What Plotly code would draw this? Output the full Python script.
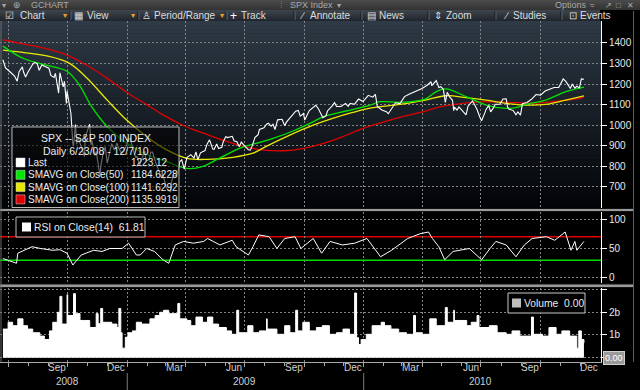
import plotly.graph_objects as go
import pandas as pd

# ---------------- DATA ----------------
price_dates = [
    "2008-06-23","2008-06-27","2008-07-03","2008-07-09","2008-07-11","2008-07-15","2008-07-18","2008-07-23",
    "2008-07-25","2008-07-28","2008-08-01","2008-08-08","2008-08-11","2008-08-15","2008-08-18","2008-08-22",
    "2008-08-29","2008-09-02","2008-09-05","2008-09-10","2008-09-12","2008-09-15","2008-09-17","2008-09-19",
    "2008-09-24","2008-09-26","2008-09-29","2008-09-30","2008-10-03","2008-10-06","2008-10-09","2008-10-10",
    "2008-10-13","2008-10-15","2008-10-17","2008-10-22","2008-10-24","2008-10-27","2008-10-28","2008-10-31",
    "2008-11-04","2008-11-06","2008-11-07","2008-11-12","2008-11-14","2008-11-20","2008-11-21","2008-11-24",
    "2008-11-28","2008-12-01","2008-12-05","2008-12-08","2008-12-12","2008-12-16","2008-12-19","2008-12-23",
    "2008-12-26","2008-12-31",
    "2009-01-02","2009-01-06","2009-01-09","2009-01-14","2009-01-16","2009-01-20","2009-01-23","2009-01-28",
    "2009-01-30","2009-02-04","2009-02-06","2009-02-09","2009-02-13","2009-02-17","2009-02-20","2009-02-23",
    "2009-02-24","2009-02-27","2009-03-02","2009-03-05","2009-03-06","2009-03-09","2009-03-10","2009-03-13",
    "2009-03-16","2009-03-20","2009-03-23","2009-03-26","2009-03-30","2009-04-03","2009-04-09","2009-04-14",
    "2009-04-17","2009-04-20","2009-04-24","2009-05-01","2009-05-04","2009-05-08","2009-05-13","2009-05-15",
    "2009-05-19","2009-05-22","2009-05-27","2009-05-29","2009-06-02","2009-06-05","2009-06-12","2009-06-15",
    "2009-06-19","2009-06-23","2009-06-26","2009-07-02","2009-07-07","2009-07-10","2009-07-13","2009-07-17",
    "2009-07-22","2009-07-24","2009-07-31","2009-08-04","2009-08-07","2009-08-11","2009-08-14","2009-08-17",
    "2009-08-21","2009-08-28","2009-09-01","2009-09-04","2009-09-11","2009-09-18","2009-09-22","2009-09-25",
    "2009-09-30","2009-10-02","2009-10-09","2009-10-16","2009-10-19","2009-10-23","2009-10-30","2009-11-04",
    "2009-11-06","2009-11-13","2009-11-17","2009-11-20","2009-11-27","2009-12-04","2009-12-08","2009-12-11",
    "2009-12-18","2009-12-24","2009-12-31",
    "2010-01-08","2010-01-15","2010-01-19","2010-01-22","2010-01-29","2010-02-05","2010-02-08","2010-02-12",
    "2010-02-19","2010-02-26","2010-03-05","2010-03-12","2010-03-19","2010-03-26","2010-04-01","2010-04-09",
    "2010-04-15","2010-04-16","2010-04-23","2010-04-27","2010-04-30","2010-05-04","2010-05-06","2010-05-07",
    "2010-05-10","2010-05-14","2010-05-18","2010-05-20","2010-05-21","2010-05-25","2010-05-28","2010-06-04",
    "2010-06-08","2010-06-11","2010-06-18","2010-06-22","2010-06-25","2010-06-29","2010-07-01","2010-07-02",
    "2010-07-07","2010-07-09","2010-07-13","2010-07-16","2010-07-20","2010-07-23","2010-07-30","2010-08-04",
    "2010-08-09","2010-08-11","2010-08-13","2010-08-20","2010-08-24","2010-08-27","2010-08-31","2010-09-03",
    "2010-09-10","2010-09-17","2010-09-24","2010-10-01","2010-10-08","2010-10-15","2010-10-22","2010-10-29",
    "2010-11-05","2010-11-09","2010-11-12","2010-11-16","2010-11-19","2010-11-23","2010-11-26","2010-11-30",
    "2010-12-03","2010-12-07",
]
price_close = [
    1318,1278,1262,1245,1239,1214,1260,1283,
    1257,1234,1260,1296,1305,1298,1267,1292,
    1282,1277,1242,1232,1252,1193,1156,1255,
    1186,1213,1106,1166,1099,1057,910,899,
    1003,908,941,896,877,848,941,968,
    1005,904,930,852,873,752,800,852,
    896,816,876,910,879,913,888,863,
    872,903,
    932,935,890,842,850,805,832,874,
    826,832,869,870,827,789,770,743,
    773,735,700,682,683,677,720,756,
    753,768,823,832,787,843,857,841,
    870,832,866,877,907,929,884,883,
    909,887,893,919,944,940,946,923,
    921,896,918,896,881,879,901,940,
    954,979,987,1005,1010,995,1005,979,
    1026,1029,998,1016,1042,1068,1072,1044,
    1057,1025,1071,1087,1097,1080,1036,1046,
    1069,1093,1110,1091,1091,1106,1092,1106,
    1102,1127,1115,
    1145,1136,1150,1091,1074,1066,1056,1075,
    1109,1105,1139,1150,1160,1167,1178,1194,
    1211,1192,1217,1183,1187,1174,1128,1111,
    1160,1136,1121,1071,1088,1074,1089,1065,
    1050,1092,1118,1095,1076,1041,1027,1022,
    1060,1078,1095,1065,1083,1102,1102,1127,
    1128,1089,1079,1071,1051,1065,1049,1104,
    1110,1126,1149,1146,1166,1176,1183,1183,
    1225,1213,1200,1178,1200,1180,1189,1181,
    1225,1223,
]

sma50_dates = ["2008-06-23","2008-07-24","2008-08-24","2008-09-30","2008-10-20","2008-11-06","2008-12-01",
               "2008-12-31","2009-01-25","2009-03-03","2009-04-03","2009-04-28","2009-05-24","2009-06-24",
               "2009-07-20","2009-08-14","2009-09-14","2009-10-15","2009-10-30","2009-12-05","2010-01-11",
               "2010-01-26","2010-02-26","2010-04-06","2010-04-23","2010-05-08","2010-06-08","2010-07-09",
               "2010-08-09","2010-08-24","2010-09-08","2010-10-09","2010-11-09","2010-12-07"]
sma50_vals = [1384,1325,1295,1262,1190,1095,993,913,865,823,790,800,841,889,913,936,972,1017,1041,1069,
              1098,1114,1111,1127,1163,1176,1139,1098,1082,1085,1101,1122,1163,1185]

sma100_dates = ["2008-06-23","2008-09-04","2008-10-04","2008-10-31","2008-12-01","2008-12-31","2009-01-31",
                "2009-03-03","2009-04-03","2009-05-04","2009-06-13","2009-07-14","2009-08-05","2009-09-09",
                "2009-10-15","2009-11-14","2009-12-15","2010-01-15","2010-02-26","2010-04-06","2010-05-08",
                "2010-06-08","2010-07-09","2010-08-09","2010-09-08","2010-10-09","2010-11-09","2010-12-07"]
sma100_vals = [1365,1333,1300,1228,1122,1025,944,880,839,834,844,864,900,952,1000,1033,1062,1085,1101,
               1122,1143,1134,1122,1106,1098,1101,1122,1142]

sma200_dates = ["2008-06-23","2008-07-24","2008-08-24","2008-09-30","2008-10-31","2008-11-30","2008-12-31",
                "2009-01-31","2009-02-28","2009-03-31","2009-04-30","2009-05-31","2009-06-30","2009-07-31",
                "2009-08-31","2009-09-30","2009-10-31","2009-11-30","2009-12-31","2010-01-31","2010-02-28",
                "2010-03-31","2010-04-30","2010-05-31","2010-06-30","2010-07-31","2010-08-31","2010-09-30",
                "2010-10-31","2010-11-30","2010-12-07"]
sma200_vals = [1415,1395,1375,1340,1290,1230,1160,1100,1045,995,960,925,897,879,876,888,912,945,985,
               1015,1040,1063,1090,1105,1113,1113,1108,1108,1118,1130,1136]

rsi_dates = ["2008-06-23","2008-07-01","2008-07-14","2008-07-16","2008-08-07","2008-08-20","2008-09-08",
             "2008-09-19","2008-09-30","2008-10-09","2008-10-22","2008-11-10","2008-11-23","2008-12-05",
             "2008-12-24","2009-01-03","2009-01-15","2009-01-21","2009-01-31","2009-02-12","2009-02-25",
             "2009-03-06","2009-03-16","2009-03-29","2009-04-13","2009-04-29","2009-05-05","2009-05-24",
             "2009-06-12","2009-06-18","2009-07-07","2009-07-14","2009-07-23","2009-08-08","2009-08-20",
             "2009-09-01","2009-09-17","2009-09-26","2009-10-15","2009-10-28","2009-11-10","2009-11-29",
             "2009-12-18","2010-01-06","2010-01-27","2010-02-13","2010-03-10","2010-03-29","2010-04-11",
             "2010-04-17","2010-04-27","2010-05-06","2010-05-19","2010-06-13","2010-07-02","2010-07-15",
             "2010-07-24","2010-08-09","2010-08-24","2010-09-06","2010-09-18","2010-10-10","2010-10-23",
             "2010-11-08","2010-11-17","2010-11-23","2010-11-26","2010-12-07"]
rsi_vals = [33,30,25,42,53,50,47,48,42,22,39,47,45,50,50,59,39,39,50,45,31,25,56,62,59,62,67,56,64,53,
            39,53,73,70,50,67,70,50,67,42,62,56,59,67,36,47,67,75,78,67,53,31,45,50,31,50,62,56,36,56,
            67,70,64,78,47,62,47,62]
rsi_levels = [70, 30]

vol_dates = ["2008-06-23","2008-07-01","2008-07-08","2008-07-16","2008-07-24","2008-07-31","2008-08-08",
             "2008-08-19","2008-08-26","2008-09-03","2008-09-08","2008-09-15","2008-09-19","2008-09-22",
             "2008-09-30","2008-10-01","2008-10-10","2008-10-13","2008-10-20","2008-10-27","2008-11-04",
             "2008-11-14","2008-11-17","2008-11-21","2008-11-24","2008-12-01","2008-12-08","2008-12-16",
             "2008-12-19","2008-12-22","2008-12-24","2008-12-29","2009-01-02","2009-01-09","2009-01-15",
             "2009-01-23","2009-02-05","2009-02-13","2009-02-20","2009-02-26","2009-03-06","2009-03-20",
             "2009-03-23","2009-04-03","2009-04-09","2009-04-17","2009-04-27","2009-05-05","2009-05-13",
             "2009-05-22","2009-06-03","2009-06-11","2009-06-19","2009-06-22","2009-07-06","2009-07-14",
             "2009-07-24","2009-08-04","2009-08-05","2009-08-20","2009-09-01","2009-09-09","2009-09-18",
             "2009-09-21","2009-09-29","2009-10-09","2009-10-20","2009-10-29","2009-11-09","2009-11-20",
             "2009-11-30","2009-12-10","2009-12-18","2009-12-21","2009-12-24","2009-12-28","2010-01-05",
             "2010-01-14","2010-01-28","2010-02-02","2010-02-12","2010-02-24","2010-03-08","2010-03-19",
             "2010-03-22","2010-04-01","2010-04-13","2010-04-23","2010-05-07","2010-05-10","2010-05-20",
             "2010-05-21","2010-06-09","2010-06-16","2010-06-25","2010-06-28","2010-07-14","2010-07-26",
             "2010-08-09","2010-08-18","2010-08-30","2010-09-17","2010-09-20","2010-10-04","2010-10-14",
             "2010-10-25","2010-11-03","2010-11-15","2010-11-26","2010-11-29","2010-12-03","2010-12-07"]
vol_vals = [1.26,1.56,1.41,1.71,1.41,1.26,1.10,0.95,0.80,1.18,1.56,2.00,2.70,1.48,2.77,1.86,2.82,1.94,
            1.64,1.64,1.33,1.94,1.50,2.17,1.56,1.56,1.48,1.33,2.17,1.10,0.42,0.90,1.10,1.18,1.56,1.48,
            1.71,1.86,2.00,2.09,1.94,2.39,1.71,1.64,1.41,1.79,1.56,1.79,1.48,1.33,1.18,1.03,2.09,1.10,
            1.41,1.10,1.18,1.71,1.26,1.03,1.41,1.10,2.09,1.18,1.56,1.18,1.33,1.41,1.03,1.10,1.26,1.03,
            2.85,0.88,0.58,0.80,1.03,1.41,1.56,1.41,1.26,1.10,1.03,1.86,1.10,1.03,1.71,1.41,2.21,1.56,
            2.09,1.64,1.41,1.56,1.86,1.33,1.41,1.10,1.03,1.18,0.95,1.79,1.03,0.95,1.33,1.03,1.18,0.95,
            0.42,1.18,0.80,0.65]

price_ticks = [700, 800, 900, 1000, 1100, 1200, 1300, 1400]
rsi_ticks = [0, 50, 100]
vol_ticks = [0, 1, 2, 3]
vol_tick_text = ["", "1b", "2b", ""]
quarter_starts = ["2008-07-01","2008-10-01","2009-01-01","2009-04-01","2009-07-01","2009-10-01",
                  "2010-01-01","2010-04-01","2010-07-01","2010-10-01"]
month_label_dates = ["2008-09-15","2008-12-15","2009-03-15","2009-06-15","2009-09-15","2009-12-15",
                     "2010-03-15","2010-06-15","2010-09-15","2010-12-15"]
month_labels = ["Sep","Dec","Mar","Jun","Sep","Dec","Mar","Jun","Sep","Dec"]
year_label_dates = ["2008-09-30","2009-07-01","2010-07-01"]
year_labels = ["2008","2009","2010"]
year_breaks = ["2009-01-01","2010-01-01"]

legend_rows = [("Last", "1223.12", "#ffffff"),
               ("SMAVG on Close(50)", "1184.6228", "#00e400"),
               ("SMAVG on Close(100)", "1141.6292", "#e8e800"),
               ("SMAVG on Close(200)", "1135.9919", "#e00000")]

# ---------------- STYLE / LAYOUT ----------------
W, H = 640, 390
FONT = "Liberation Sans, Arial, sans-serif"
GRID = "#858585"
X_RANGE = ["2008-06-18 12:00", "2011-01-02 08:00"]
def X(px): return px / W
def Y(py): return 1 - py / H

fig = go.Figure()
fig.add_trace(go.Scatter(x=pd.to_datetime(sma200_dates), y=sma200_vals, mode="lines",
                         line=dict(color="#e00000", width=1.3, shape="spline"), xaxis="x", yaxis="y"))
fig.add_trace(go.Scatter(x=pd.to_datetime(sma100_dates), y=sma100_vals, mode="lines",
                         line=dict(color="#e8e800", width=1.3, shape="spline"), xaxis="x", yaxis="y"))
fig.add_trace(go.Scatter(x=pd.to_datetime(sma50_dates), y=sma50_vals, mode="lines",
                         line=dict(color="#00e400", width=1.3, shape="spline"), xaxis="x", yaxis="y"))
fig.add_trace(go.Scatter(x=pd.to_datetime(price_dates), y=price_close, mode="lines",
                         line=dict(color="#ffffff", width=1.1), xaxis="x", yaxis="y"))
fig.add_trace(go.Scatter(x=pd.to_datetime(rsi_dates), y=rsi_vals, mode="lines",
                         line=dict(color="#ffffff", width=1), xaxis="x2", yaxis="y2"))
fig.add_trace(go.Scatter(x=pd.to_datetime(vol_dates), y=vol_vals, mode="lines", fill="tozeroy",
                         fillcolor="#ffffff", line=dict(color="#ffffff", width=1, shape="hv"),
                         xaxis="x3", yaxis="y3"))

month_starts = pd.date_range("2008-07-01", "2010-12-01", freq="MS")

def xax(**kw):
    d = dict(type="date", range=X_RANGE, domain=[0, X(601)], showgrid=True, gridcolor=GRID,
             griddash="2px,2px", gridwidth=1, tickmode="array", tickvals=quarter_starts,
             showticklabels=False, ticks="", zeroline=False, showline=False, fixedrange=True)
    d.update(kw)
    return d

def yax(**kw):
    d = dict(side="right", showgrid=True, gridcolor=GRID, griddash="2px,2px", gridwidth=1,
             showline=True, linecolor="#ffffff", linewidth=1, ticks="outside", ticklen=5,
             tickcolor="#ffffff", tickfont=dict(family=FONT, size=10, color="#e8e8e8"),
             zeroline=False, tickmode="array", fixedrange=True)
    d.update(kw)
    return d

shapes = []
# main panel gradient background
N = 46
top, bot = 21, 208
for i in range(N):
    t = i / (N - 1)
    c = (int(46 - 43 * t), int(58 - 54 * t), int(70 - 63 * t))
    shapes.append(dict(type="rect", xref="paper", yref="paper", x0=0, x1=X(601),
                       y0=Y(top + (bot - top) * (i + 1) / N + 0.5), y1=Y(top + (bot - top) * i / N),
                       fillcolor="rgb(%d,%d,%d)" % c, line=dict(width=0), layer="below"))
# toolbar rows
for i in range(10):
    g = int(74 - 2.5 * i)
    shapes.append(dict(type="rect", xref="paper", yref="paper", x0=0, x1=1, y0=Y(i + 1.05), y1=Y(i),
                       fillcolor="rgb(%d,%d,%d)" % (g, g, g), line=dict(width=0), layer="below"))
for i in range(11):
    t = i / 10
    c = (int(62 - 28 * t), int(68 - 29 * t), int(76 - 30 * t))
    shapes.append(dict(type="rect", xref="paper", yref="paper", x0=0, x1=X(600), y0=Y(10 + i + 1.05),
                       y1=Y(10 + i), fillcolor="rgb(%d,%d,%d)" % c, line=dict(width=0), layer="below"))
for sx in [70, 138, 226, 294, 361, 428, 495, 561]:
    shapes.append(dict(type="line", xref="paper", yref="paper", x0=X(sx), x1=X(sx), y0=Y(20), y1=Y(11),
                       line=dict(color="#15181c", width=1)))
    shapes.append(dict(type="line", xref="paper", yref="paper", x0=X(sx + 1), x1=X(sx + 1), y0=Y(20),
                       y1=Y(11), line=dict(color="#56606a", width=1)))
# panel separators and borders
for (a, b) in [(208, 212), (283.5, 288)]:
    shapes.append(dict(type="rect", xref="paper", yref="paper", x0=0, x1=X(634), y0=Y(b), y1=Y(a),
                       fillcolor="#111111", line=dict(width=0)))
    shapes.append(dict(type="rect", xref="paper", yref="paper", x0=0, x1=X(634), y0=Y(b - 1),
                       y1=Y(a + 1), fillcolor="#9a9a9a", line=dict(width=0)))
shapes.append(dict(type="line", xref="paper", yref="paper", x0=X(633.5), x1=X(633.5), y0=Y(362),
                   y1=Y(11), line=dict(color="#5e5e5e", width=1)))
shapes.append(dict(type="line", xref="paper", yref="paper", x0=X(1), x1=X(1), y0=Y(362), y1=Y(21),
                   line=dict(color="#6a6a6a", width=1)))
for yb in year_breaks:
    shapes.append(dict(type="line", xref="x3", yref="paper", x0=yb, x1=yb, y0=0, y1=Y(373),
                       line=dict(color="#7a7a7a", width=1)))
# RSI reference levels
for lvl, col in zip(rsi_levels, ["#e00000", "#00e000"]):
    shapes.append(dict(type="line", xref="x2 domain", yref="y2", x0=0, x1=1, y0=lvl, y1=lvl,
                       line=dict(color=col, width=1.5), layer="below"))
# legend boxes
shapes.append(dict(type="rect", xref="paper", yref="paper", x0=X(12), x1=X(179), y0=Y(207.5), y1=Y(127),
                   fillcolor="rgba(0,0,0,0.58)", line=dict(color="#b8b8b8", width=1), layer="above"))
for i, (_, _, col) in enumerate(legend_rows):
    cy = 162.5 + i * 12.3
    shapes.append(dict(type="rect", xref="paper", yref="paper", x0=X(16), x1=X(25), y0=Y(cy + 4.5),
                       y1=Y(cy - 4.5), fillcolor=col, line=dict(color="#dddddd", width=0.5), layer="above"))
shapes.append(dict(type="rect", xref="paper", yref="paper", x0=X(16), x1=X(145), y0=Y(237), y1=Y(217),
                   fillcolor="rgba(0,0,0,0.85)", line=dict(color="#b8b8b8", width=1), layer="above"))
shapes.append(dict(type="rect", xref="paper", yref="paper", x0=X(22), x1=X(31), y0=Y(231.5), y1=Y(222.5),
                   fillcolor="#ffffff", line=dict(width=0), layer="above"))
shapes.append(dict(type="rect", xref="paper", yref="paper", x0=X(508), x1=X(585), y0=Y(313), y1=Y(293),
                   fillcolor="#000000", line=dict(color="#c8c8c8", width=1), layer="above"))
shapes.append(dict(type="rect", xref="paper", yref="paper", x0=X(512), x1=X(521), y0=Y(307.5), y1=Y(298.5),
                   fillcolor="#bdbdbd", line=dict(width=0), layer="above"))

ann = []
def txt(x, y, s, size=10, color="#e6e6e6", xanchor="left", **kw):
    d = dict(x=X(x), y=Y(y), xref="paper", yref="paper", text=s, showarrow=False,
             font=dict(family=FONT, size=size, color=color), xanchor=xanchor, yanchor="middle",
             borderpad=0)
    d.update(kw)
    return d

# toolbar row 1
T1 = "#a8a8a8"
ann += [txt(1, 5.5, "▾", 8, T1), txt(12, 5.5, "⊕", 9, T1), txt(30, 5.5, "GCHART", 9, T1),
        txt(279, 5.5, "⁞", 9, "#7a7a7a"), txt(289, 5.5, "SPX Index", 9, T1), txt(336, 5.5, "▾", 8, T1),
        txt(554, 5.5, "Options", 9, T1), txt(589, 5.5, "≈", 8, T1), txt(604, 5.5, "↗", 8, T1),
        txt(615, 5.5, "□", 8, T1), txt(626, 5.5, "✕", 8, T1)]
# toolbar row 2
T2 = "#dcdcdc"
OR = "#f0a020"
ann += [txt(4, 16, "☑", 10, T2), txt(19, 16, "Chart", 10, T2), txt(62, 16, "▾", 8, OR),
        txt(73, 16, "▦", 10, T2), txt(86, 16, "View", 10, T2), txt(130, 16, "▾", 8, OR),
        txt(141, 16, "♙", 10, T2), txt(153, 16, "Period/Range", 10, T2), txt(219, 16, "▾", 8, OR),
        txt(229, 16, "+", 12, "#ffffff"), txt(240, 16, "Track", 10, T2),
        txt(298, 16, "∕", 10, T2), txt(309, 16, "Annotate", 10, T2),
        txt(366, 16, "▤", 10, T2), txt(378, 16, "News", 10, T2),
        txt(433, 16, "⇕", 10, T2), txt(445, 16, "Zoom", 10, T2),
        txt(502, 16, "∕", 10, T2), txt(512, 16, "Studies", 10, T2),
        txt(568, 16, "⊡", 10, T2), txt(579, 16, "Events", 10, T2)]
# main legend
LC = "#ececec"
LS = 10
ann += [txt(96, 138, "SPX -- S&P 500 INDEX", 10.5, LC, xanchor="center"),
        txt(96, 151, "Daily 6/23/08 - 12/7/10", 10.5, LC, xanchor="center")]
for i, (lab, val, _) in enumerate(legend_rows):
    cy = 162.5 + i * 12.3
    ann.append(txt(27, cy, lab, LS, LC))
    ann.append(txt(130, cy, val, LS, LC))
ann.append(txt(33, 227, "RSI on Close(14)  61.81", 10.3, LC))
ann.append(txt(523, 303, "Volume  0.00", 10.3, LC))
# last-value tag on volume axis
ann.append(dict(x=X(603), y=0, xref="paper", yref="y3", text="0.00", showarrow=False,
                font=dict(family=FONT, size=9, color="#ffffff"), xanchor="left", yanchor="middle",
                bgcolor="#9a9a9a", bordercolor="#d0d0d0", borderwidth=1, borderpad=1))
# x axis labels
for d, lab in zip(month_label_dates, month_labels):
    ann.append(dict(x=d, y=Y(367), xref="x3", yref="paper", text=lab, showarrow=False,
                    font=dict(family=FONT, size=10, color="#d0d0d0"), xanchor="center", yanchor="middle"))
for d, lab in zip(year_label_dates, year_labels):
    ann.append(dict(x=d, y=Y(381), xref="x3", yref="paper", text=lab, showarrow=False,
                    font=dict(family=FONT, size=10, color="#d0d0d0"), xanchor="center", yanchor="middle"))

fig.update_layout(
    width=W, height=H, margin=dict(l=0, r=0, t=0, b=0),
    paper_bgcolor="#000000", plot_bgcolor="rgba(0,0,0,0)", showlegend=False,
    xaxis=xax(anchor="y"),
    xaxis2=xax(anchor="y2", matches="x"),
    xaxis3=xax(anchor="y3", matches="x", showline=True, linecolor="#a8a8a8", ticks="outside",
               ticklen=4, tickcolor="#a8a8a8",
               minor=dict(tickvals=list(month_starts), ticks="outside", ticklen=3,
                          tickcolor="#a8a8a8", showgrid=False)),
    yaxis=yax(anchor="x", domain=[Y(208), Y(21)], range=[598, 1506], tickvals=price_ticks),
    yaxis2=yax(anchor="x2", domain=[Y(283), Y(212)], range=[-8.5, 111.9], tickvals=rsi_ticks),
    yaxis3=yax(anchor="x3", domain=[Y(362), Y(288)], range=[-0.19, 3.07], tickvals=vol_ticks,
               ticktext=vol_tick_text),
    shapes=shapes, annotations=ann, hovermode=False,
)
fig.write_html("out.html", config={"displayModeBar": False},
               post_script="document.body.style.margin='0px';document.body.style.overflow='hidden';")
